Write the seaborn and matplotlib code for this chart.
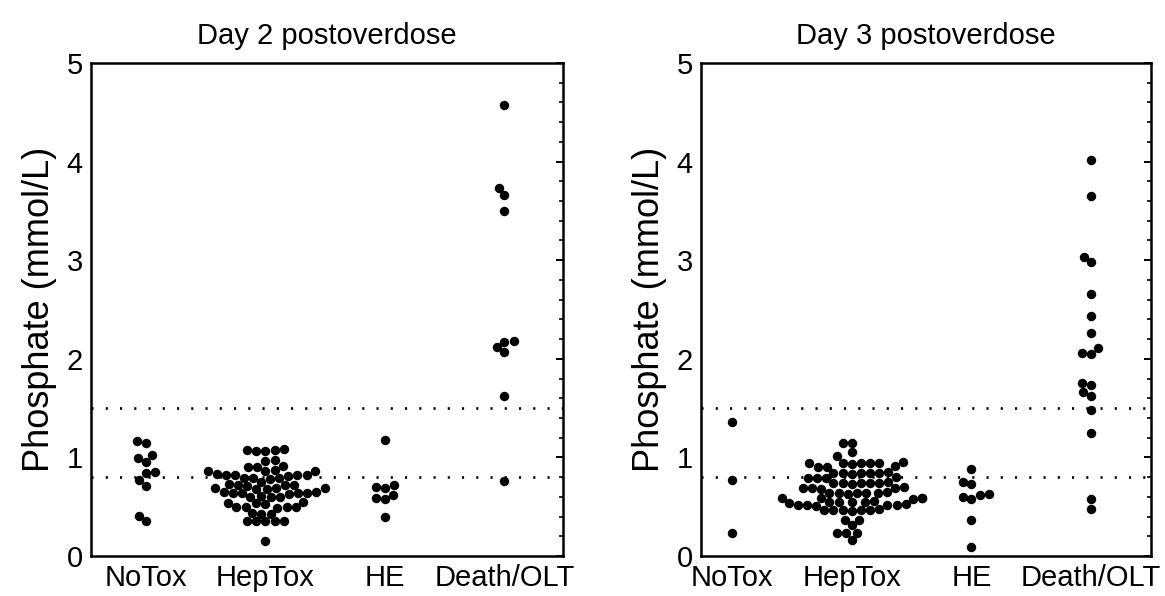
import pandas as pd
import seaborn as sns
import matplotlib.pyplot as plt
from matplotlib.ticker import AutoMinorLocator, MultipleLocator

groups = ['NoTox', 'HepTox', 'HE', 'Death/OLT']

# Day 2 postoverdose
day2_notox = [1.15, 1.17, 1.02, 0.95, 0.99, 0.84, 0.85, 0.77, 0.71, 0.35, 0.41]
day2_heptox = [1.07, 1.08, 1.07, 1.08, 1.09,
               0.97, 0.96,
               0.90, 0.91, 0.90,
               0.86, 0.86, 0.87, 0.86,
               0.82, 0.82, 0.81, 0.82, 0.83, 0.82,
               0.79, 0.79, 0.78, 0.79,
               0.75,
               0.72, 0.72, 0.71, 0.72, 0.73,
               0.69, 0.69, 0.68, 0.69, 0.68,
               0.65, 0.65, 0.64, 0.64, 0.64, 0.63, 0.64,
               0.60, 0.60, 0.61, 0.60,
               0.55,
               0.535, 0.53, 0.54,
               0.50, 0.50, 0.49, 0.50, 0.50,
               0.43, 0.43, 0.44,
               0.35, 0.35, 0.36, 0.35, 0.35,
               0.15]
day2_he = [1.18, 0.69, 0.70, 0.72, 0.575, 0.59, 0.62, 0.40]
day2_death = [4.57, 3.73, 3.66, 3.50, 2.18, 2.17, 2.12, 2.07, 1.62, 0.76]

# Day 3 postoverdose
day3_notox = [1.36, 0.77, 0.23]
day3_heptox = [1.15, 1.15,
               1.05, 1.01,
               0.94, 0.94, 0.95, 0.94, 0.94, 0.93, 0.94,
               0.90, 0.90, 0.91,
               0.84, 0.84, 0.85, 0.84, 0.83, 0.84, 0.84,
               0.79, 0.79, 0.80, 0.79,
               0.74, 0.74, 0.75, 0.74, 0.73, 0.74, 0.74,
               0.69, 0.69, 0.70, 0.69, 0.68,
               0.64, 0.64, 0.65, 0.64, 0.63, 0.64, 0.64,
               0.585, 0.585, 0.59, 0.58, 0.585,
               0.55, 0.55, 0.56, 0.55, 0.54, 0.55,
               0.52, 0.52, 0.51, 0.52, 0.52, 0.53,
               0.47, 0.47, 0.48, 0.47, 0.46, 0.47, 0.47,
               0.365, 0.365, 0.31, 0.23, 0.23, 0.23, 0.16]
day3_he = [0.885, 0.73, 0.75, 0.58, 0.60, 0.615, 0.625, 0.37, 0.095]
day3_death = [4.02, 3.65, 3.03, 2.98, 2.66, 2.43, 2.26, 2.11, 2.05, 2.06,
              1.75, 1.73, 1.66, 1.62, 1.48, 1.245, 0.58, 0.48]

ref_lines = [0.8, 1.5]

# each group is swarmed on its own, so its swarm may spread +-0.4 axis units;
# with this spacing that is about 70 px, roughly the width of the original clouds
STEP = 0.683


def make_df(lists):
    rows = []
    for i, (g, vals) in enumerate(zip(groups, lists)):
        for v in vals:
            rows.append({'group': g, 'pos': STEP * i, 'phosphate': v})
    return pd.DataFrame(rows)


df2 = make_df([day2_notox, day2_heptox, day2_he, day2_death])
df3 = make_df([day3_notox, day3_heptox, day3_he, day3_death])

sns.set_style('white')
plt.rcParams['font.family'] = ['Liberation Sans', 'DejaVu Sans']
plt.rcParams['text.color'] = 'black'
plt.rcParams['axes.labelcolor'] = 'black'
plt.rcParams['xtick.color'] = 'black'
plt.rcParams['ytick.color'] = 'black'

fig = plt.figure(figsize=(11.65, 5.96), dpi=100)
ax1 = fig.add_axes([0.0781, 0.0671, 0.4052, 0.8272])
ax2 = fig.add_axes([0.6017, 0.0671, 0.3863, 0.8272])

panels = [(ax1, df2, 'Day 2 postoverdose', (-0.46 * STEP, 3.49 * STEP)),
          (ax2, df3, 'Day 3 postoverdose', (-0.26 * STEP, 3.5 * STEP))]

for ax, df, title, xl in panels:
    for yv in ref_lines:
        ax.axhline(yv, color='black', linewidth=1.9, linestyle=(0, (0.8, 4.6)), zorder=1)
    for g in groups:
        sns.swarmplot(data=df[df['group'] == g], x='pos', y='phosphate',
                      native_scale=True, color='black', size=6.3, linewidth=0,
                      ax=ax, zorder=3, warn_thresh=1)
    ax.set_xlim(*xl)
    ax.set_ylim(0, 5)
    ax.set_xticks([STEP * i for i in range(len(groups))], groups)
    ax.yaxis.set_major_locator(MultipleLocator(1))
    ax.yaxis.set_minor_locator(AutoMinorLocator(5))
    ax.tick_params(axis='y', which='major', direction='in', length=5, width=1.4,
                   right=True, labelsize=21, pad=6)
    ax.tick_params(axis='y', which='minor', direction='in', length=3, width=1.2,
                   right=True)
    ax.tick_params(axis='x', length=0, labelsize=21, pad=6)
    ax.set_xlabel('')
    ax.set_ylabel('Phosphate (mmol/L)', fontsize=26, labelpad=7)
    ax.set_title(title, fontsize=21, pad=14)
    for s in ax.spines.values():
        s.set_linewidth(1.8)
        s.set_color('black')

# fix the swarm positions, then draw the dots at their final size
fig.canvas.draw()
for ax in (ax1, ax2):
    for coll in ax.collections:
        if 'draw' in coll.__dict__:
            del coll.draw
        coll.set_sizes([6.8 ** 2])

plt.savefig('out.png', dpi=100)
